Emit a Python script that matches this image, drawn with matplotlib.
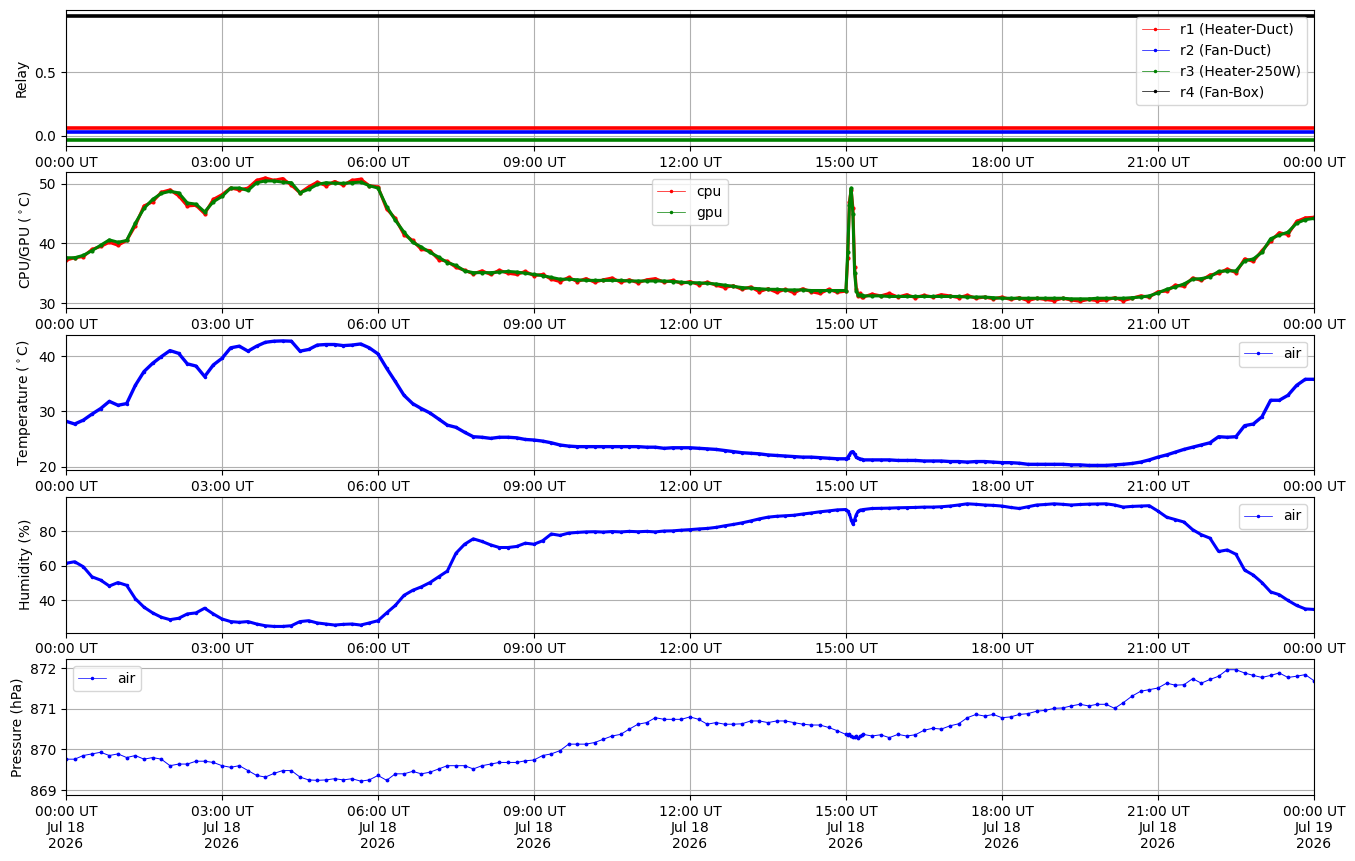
import matplotlib
matplotlib.use('Agg')
import matplotlib.pyplot as plt
import matplotlib.dates as mdates
from matplotlib.lines import Line2D
from datetime import datetime, timedelta

# ---------------- data ----------------
start = datetime(2026, 7, 18)
end = datetime(2026, 7, 19)

# sample times (minutes after midnight): every 10 min, denser around 15:00 event
minutes = list(range(0, 901, 10)) + list(range(902, 919, 2)) + list(range(920, 1441, 10))

relay_hours = list(range(0, 25))
r1_heater_duct = [0] * 25
r2_fan_duct = [0] * 25
r3_heater_250w = [0] * 25
r4_fan_box = [1] * 25

cpu = [
    37.2, 37.6, 37.8, 39.0, 39.5, 40.2,   # 00
    39.7, 40.5, 43.0, 46.3, 47.0, 48.6,   # 01
    49.0, 48.0, 46.3, 46.4, 45.0, 47.4,   # 02
    48.2, 49.3, 49.0, 49.3, 50.6, 51.0,   # 03
    50.6, 50.9, 49.8, 48.5, 49.5, 50.3,   # 04
    49.7, 50.4, 49.8, 50.6, 50.8, 49.7,   # 05
    49.5, 45.8, 44.2, 41.5, 40.5, 39.0,   # 06
    38.8, 37.3, 37.0, 36.0, 35.5, 34.9,   # 07
    35.4, 34.8, 35.5, 35.0, 34.8, 35.3,   # 08
    34.6, 34.8, 34.0, 33.6, 34.3, 33.6,   # 09
    34.1, 33.5, 33.9, 34.2, 33.5, 33.9,   # 10
    33.4, 33.9, 34.1, 33.5, 33.8, 33.3,   # 11
    33.6, 33.1, 33.5, 33.0, 32.6, 32.9,   # 12
    32.3, 32.7, 31.9, 32.4, 31.8, 32.3,   # 13
    31.7, 32.4, 31.9, 31.6, 32.3, 31.8,   # 14
    32.0, 37.5, 47.0, 49.0, 46.0, 36.0, 32.3, 31.2, 31.6, 31.0,  # 15:00-15:18
    31.0, 31.5, 31.2, 31.6,               # 15:20-15:50
    31.0, 31.4, 30.9, 31.3, 31.0, 31.4,   # 16
    31.2, 30.9, 31.3, 30.8, 31.0, 30.7,   # 17
    31.0, 30.6, 30.9, 30.4, 30.8, 30.6,   # 18
    30.4, 30.8, 30.5, 30.3, 30.6, 30.4,   # 19
    30.5, 30.9, 30.4, 30.8, 31.2, 31.0,   # 20
    31.9, 32.0, 33.0, 32.8, 34.2, 33.8,   # 21
    34.7, 35.0, 35.7, 35.1, 37.4, 37.0,   # 22
    38.8, 40.4, 41.8, 41.5, 43.7, 44.3,   # 23
    44.4,
]

gpu = [
    37.6, 37.6, 38.0, 38.8, 39.7, 40.6,   # 00
    40.2, 40.5, 43.4, 45.9, 47.4, 48.4,   # 01
    48.75, 48.5, 46.8, 46.6, 45.3, 47.0,  # 02
    47.9, 49.3, 49.3, 48.9, 50.2, 50.5,   # 03
    50.5, 50.3, 50.2, 48.5, 49.1, 49.9,   # 04
    50.2, 50.1, 50.1, 50.2, 50.3, 49.7,   # 05
    49.3, 46.2, 43.9, 41.9, 40.2, 39.4,   # 06
    38.5, 37.7, 36.8, 36.3, 35.4, 35.1,   # 07
    35.1, 35.1, 35.2, 35.3, 35.2, 35.0,   # 08
    34.8, 34.6, 34.3, 34.0, 34.0, 33.9,   # 09
    33.8, 33.8, 33.8, 33.8, 33.8, 33.7,   # 10
    33.7, 33.7, 33.7, 33.7, 33.6, 33.5,   # 11
    33.4, 33.4, 33.3, 33.2, 33.0, 32.8,   # 12
    32.6, 32.5, 32.4, 32.3, 32.3, 32.2,   # 13
    32.2, 32.2, 32.1, 32.1, 32.1, 32.1,   # 14
    32.1, 38.5, 46.5, 49.3, 45.0, 35.0, 32.0, 31.4, 31.3, 31.3,  # 15:00-15:18
    31.2, 31.2, 31.2, 31.1,               # 15:20-15:50
    31.1, 31.1, 31.1, 31.1, 31.1, 31.1,   # 16
    31.1, 31.1, 31.0, 31.0, 31.0, 30.9,   # 17
    30.8, 30.8, 30.8, 30.8, 30.8, 30.8,   # 18
    30.8, 30.8, 30.7, 30.7, 30.7, 30.8,   # 19
    30.8, 30.8, 30.8, 30.9, 31.0, 31.2,   # 20
    31.7, 32.3, 32.7, 33.2, 34.0, 34.1,   # 21
    34.4, 35.3, 35.4, 35.4, 37.1, 37.4,   # 22
    38.5, 40.8, 41.4, 41.9, 43.4, 44.0,   # 23
    44.2,
]

air_temp = [
    28.2, 27.7, 28.4, 29.5, 30.5, 31.8,   # 00
    31.1, 31.4, 34.7, 37.2, 38.7, 39.9,   # 01
    41.0, 40.5, 38.6, 38.2, 36.3, 38.4,   # 02
    39.6, 41.5, 41.8, 40.9, 41.8, 42.5,   # 03
    42.7, 42.75, 42.7, 40.9, 41.2, 42.0,  # 04
    42.1, 42.1, 41.9, 42.0, 42.2, 41.5,   # 05
    40.4, 37.8, 35.4, 32.9, 31.4, 30.5,   # 06
    29.7, 28.6, 27.5, 27.1, 26.2, 25.4,   # 07
    25.3, 25.1, 25.3, 25.3, 25.2, 24.9,   # 08
    24.8, 24.6, 24.3, 23.9, 23.7, 23.6,   # 09
    23.6, 23.6, 23.6, 23.6, 23.6, 23.6,   # 10
    23.6, 23.5, 23.5, 23.3, 23.4, 23.4,   # 11
    23.4, 23.3, 23.2, 23.1, 22.9, 22.7,   # 12
    22.5, 22.4, 22.3, 22.1, 22.0, 21.9,   # 13
    21.8, 21.7, 21.7, 21.6, 21.5, 21.4,   # 14
    21.4, 21.6, 22.1, 22.6, 22.7, 22.2, 21.7, 21.5, 21.4, 21.3,  # 15:00-15:18
    21.2, 21.2, 21.2, 21.2,               # 15:20-15:50
    21.1, 21.1, 21.1, 21.0, 21.0, 21.0,   # 16
    20.9, 20.9, 20.8, 20.9, 20.9, 20.8,   # 17
    20.7, 20.7, 20.6, 20.4, 20.4, 20.4,   # 18
    20.4, 20.4, 20.3, 20.3, 20.2, 20.2,   # 19
    20.2, 20.3, 20.4, 20.55, 20.8, 21.2,  # 20
    21.7, 22.1, 22.6, 23.1, 23.5, 23.9,   # 21
    24.3, 25.4, 25.3, 25.4, 27.4, 27.7,   # 22
    29.0, 32.0, 32.0, 32.9, 34.7, 35.8,   # 23
    35.8,
]

air_humidity = [
    61.4, 62.3, 59.4, 53.6, 51.7, 48.3,   # 00
    50.3, 48.7, 41.0, 36.1, 32.8, 30.3,   # 01
    28.9, 29.7, 32.2, 32.8, 35.5, 32.2,   # 02
    29.3, 27.8, 27.4, 27.8, 26.4, 25.4,   # 03
    25.0, 25.0, 25.4, 27.8, 28.3, 27.0,   # 04
    26.4, 25.8, 26.2, 26.4, 25.8, 27.0,   # 05
    28.3, 32.8, 37.1, 42.9, 45.8, 47.8,   # 06
    50.3, 53.6, 56.9, 67.2, 72.4, 75.5,   # 07
    74.0, 72.0, 70.5, 70.5, 71.1, 73.0,   # 08
    72.4, 74.4, 78.3, 77.5, 78.8, 79.2,   # 09
    79.5, 79.6, 79.4, 79.7, 79.5, 79.8,   # 10
    79.6, 79.8, 79.5, 80.0, 80.1, 80.5,   # 11
    80.8, 81.2, 81.5, 82.1, 83.0, 83.8,   # 12
    84.7, 85.8, 87.0, 88.0, 88.5, 88.8,   # 13
    89.1, 89.8, 90.4, 91.1, 91.6, 92.2,   # 14
    92.4, 91.5, 89.8, 86.5, 84.1, 86.6, 89.5, 91.3, 92.0, 92.2,  # 15:00-15:18
    92.4, 93.0, 93.1, 93.2,               # 15:20-15:50
    93.4, 93.5, 93.6, 93.8, 93.8, 94.0,   # 16
    94.4, 95.0, 95.7, 95.4, 95.0, 94.8,   # 17
    94.4, 93.6, 93.0, 94.0, 95.0, 95.3,   # 18
    95.7, 95.4, 95.0, 95.3, 95.5, 95.6,   # 19
    95.7, 95.0, 93.8, 94.2, 94.4, 94.6,   # 20
    91.5, 88.0, 86.6, 85.2, 80.8, 77.9,   # 21
    75.9, 68.2, 69.1, 66.6, 57.5, 54.6,   # 22
    50.3, 44.9, 43.3, 40.0, 37.1, 35.1,   # 23
    34.8,
]

air_pressure = [
    869.76, 869.76, 869.85, 869.89, 869.93, 869.85,   # 00
    869.89, 869.80, 869.85, 869.76, 869.80, 869.76,   # 01
    869.60, 869.64, 869.64, 869.71, 869.71, 869.68,   # 02
    869.60, 869.56, 869.60, 869.48, 869.36, 869.32,   # 03
    869.41, 869.48, 869.48, 869.32, 869.25, 869.24,   # 04
    869.25, 869.28, 869.25, 869.28, 869.22, 869.25,   # 05
    869.36, 869.24, 869.40, 869.40, 869.46, 869.40,   # 06
    869.44, 869.52, 869.60, 869.60, 869.60, 869.52,   # 07
    869.60, 869.64, 869.68, 869.68, 869.68, 869.72,   # 08
    869.74, 869.85, 869.89, 869.97, 870.13, 870.13,   # 09
    870.13, 870.17, 870.25, 870.33, 870.37, 870.50,   # 10
    870.62, 870.66, 870.78, 870.74, 870.74, 870.74,   # 11
    870.80, 870.74, 870.62, 870.66, 870.62, 870.62,   # 12
    870.63, 870.70, 870.70, 870.66, 870.70, 870.70,   # 13
    870.66, 870.62, 870.60, 870.60, 870.54, 870.46,   # 14
    870.37, 870.35, 870.39, 870.33, 870.30, 870.31, 870.34, 870.28, 870.33, 870.36,  # 15:00-15:18
    870.37, 870.33, 870.36, 870.29,                   # 15:20-15:50
    870.37, 870.33, 870.36, 870.47, 870.52, 870.50,   # 16
    870.58, 870.63, 870.78, 870.86, 870.82, 870.86,   # 17
    870.78, 870.80, 870.86, 870.88, 870.94, 870.96,   # 18
    871.01, 871.02, 871.07, 871.11, 871.07, 871.11,   # 19
    871.11, 871.01, 871.15, 871.31, 871.43, 871.47,   # 20
    871.51, 871.63, 871.58, 871.59, 871.74, 871.63,   # 21
    871.72, 871.80, 871.96, 871.96, 871.88, 871.82,   # 22
    871.77, 871.82, 871.88, 871.77, 871.80, 871.84,   # 23
    871.69,
]

for s in (cpu, gpu, air_temp, air_humidity, air_pressure):
    assert len(s) == len(minutes), len(s)

times = [start + timedelta(minutes=m) for m in minutes]
relay_times = [start + timedelta(hours=h) for h in relay_hours]

# ---------------- figure ----------------
fig, axes = plt.subplots(5, 1, figsize=(13.55, 8.61), dpi=100)
fig.subplots_adjust(left=0.0487, right=0.9697, top=0.9884, bottom=0.0767, hspace=0.195)

def proxy(color):
    return Line2D([], [], color=color, lw=0.5, marker='.', markersize=3)

# Relay
ax = axes[0]
relay_series = [(r1_heater_duct, 0.06, 'red', 'r1 (Heater-Duct)'),
                (r2_fan_duct, 0.03, 'blue', 'r2 (Fan-Duct)'),
                (r3_heater_250w, -0.03, 'green', 'r3 (Heater-250W)'),
                (r4_fan_box, -0.06, 'black', 'r4 (Fan-Box)')]
handles = []
for vals, off, col, lab in relay_series:
    ax.plot(relay_times, [v + off for v in vals], color=col, lw=2.6, solid_capstyle='butt')
    h = proxy(col); h.set_label(lab); handles.append(h)
ax.legend(handles=handles, loc='upper right')
ax.set_ylabel('Relay')
ax.set_ylim(-0.078, 0.988)
ax.set_yticks([0.0, 0.5])

# CPU / GPU
ax = axes[1]
ax.plot(times, cpu, color='red', lw=2.2, marker='.', markersize=4)
ax.plot(times, gpu, color='green', lw=2.2, marker='.', markersize=4)
hc = proxy('red'); hc.set_label('cpu')
hg = proxy('green'); hg.set_label('gpu')
ax.legend(handles=[hc, hg], loc='upper center')
ax.set_ylabel(r'CPU/GPU ($^\circ$C)')
ax.set_ylim(29.15, 51.95)
ax.set_yticks([30, 40, 50])

# Temperature
ax = axes[2]
ax.plot(times, air_temp, color='blue', lw=2.4, marker='.', markersize=3)
h = proxy('blue'); h.set_label('air')
ax.legend(handles=[h], loc='upper right')
ax.set_ylabel(r'Temperature ($^\circ$C)')
ax.set_ylim(19.3, 43.9)
ax.set_yticks([20, 30, 40])

# Humidity
ax = axes[3]
ax.plot(times, air_humidity, color='blue', lw=2.2, marker='.', markersize=3)
h = proxy('blue'); h.set_label('air')
ax.legend(handles=[h], loc='upper right')
ax.set_ylabel('Humidity (%)')
ax.set_ylim(21.4, 99.7)
ax.set_yticks([40, 60, 80])

# Pressure
ax = axes[4]
ax.plot(times, air_pressure, color='blue', lw=0.7, marker='.', markersize=3.5)
h = proxy('blue'); h.set_label('air')
ax.legend(handles=[h], loc='upper left')
ax.set_ylabel('Pressure (hPa)')
ax.set_ylim(868.88, 872.22)
ax.set_yticks([869, 870, 871, 872])

for i, ax in enumerate(axes):
    ax.set_xlim(start, end)
    ax.xaxis.set_major_locator(mdates.HourLocator(byhour=range(0, 24, 3)))
    if i < 4:
        ax.xaxis.set_major_formatter(mdates.DateFormatter('%H:%M UT'))
    else:
        ax.xaxis.set_major_formatter(mdates.DateFormatter('%H:%M UT\n%b %d\n%Y'))
    ax.grid(True)
    for lab in ax.get_xticklabels():
        lab.set_rotation(0)
        lab.set_horizontalalignment('center')

fig.savefig('out.png', dpi=100)
